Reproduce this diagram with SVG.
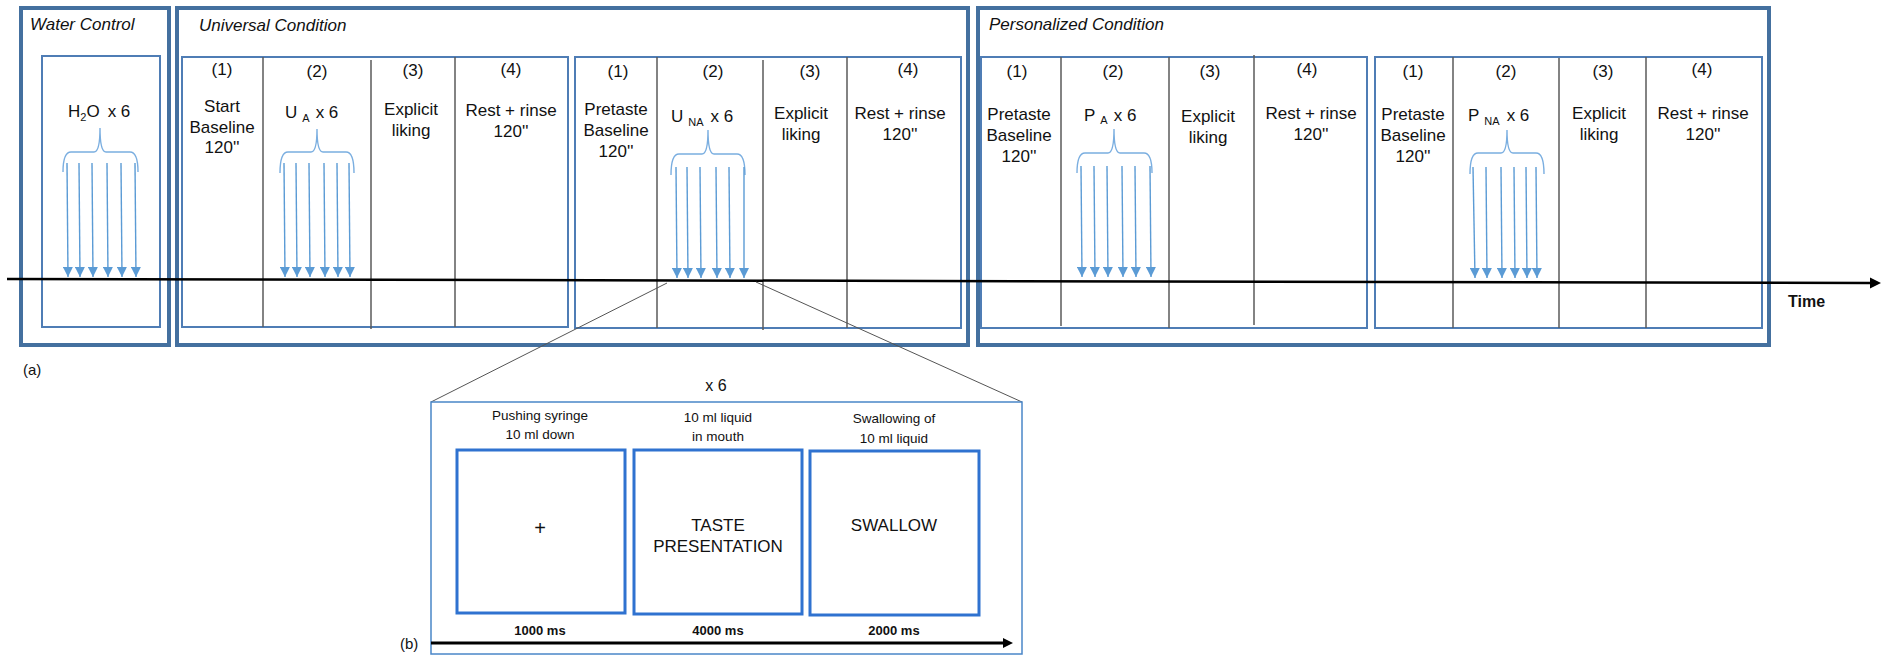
<svg xmlns="http://www.w3.org/2000/svg" width="1885" height="655" viewBox="0 0 1885 655">
<defs>
<marker id="ba" viewBox="0 0 10 10" refX="10" refY="5" markerWidth="10" markerHeight="10" orient="auto" markerUnits="userSpaceOnUse"><path d="M0,0 L10,5 L0,10 z" fill="#5b9bd5"/></marker>
<style>
text{font-family:"Liberation Sans",Arial,sans-serif;fill:#111;}
.t{font-size:17px;text-anchor:middle;}
.ti{font-size:17px;font-style:italic;}
.s{font-size:17px;}
.sm{font-size:13.5px;text-anchor:middle;}
.b{font-size:13px;font-weight:bold;text-anchor:middle;}
.outer{fill:none;stroke:#44709f;stroke-width:4;}
.inner{fill:none;stroke:#4f7db5;stroke-width:2;}
.div{stroke:#5a5a5a;stroke-width:1.5;}
.arr{stroke:#5b9bd5;stroke-width:1.4;fill:none;}
.brace{stroke:#7aaee0;stroke-width:1.4;fill:none;}
.sb{fill:none;stroke:#2f72d0;stroke-width:3;}
.zoom{stroke:#555;stroke-width:1;}
</style>
</defs>

<g id="water">
<rect class="outer" x="21" y="8" width="148" height="337"/>
<text class="ti" x="30" y="30">Water Control</text>
<rect class="inner" x="42" y="56" width="118" height="271"/>
<text class="s" x="68" y="117">H<tspan font-size="11" dy="4">2</tspan><tspan dy="-4">O</tspan><tspan dx="8">x 6</tspan></text>
<path class="brace" d="M63,172 Q63,152 71,152 L94,152 Q100,152 100,128 Q100,152 106,152 L130,152 Q138,152 138,172"/>
<g class="arr">
<line x1="67" y1="163" x2="68" y2="277" marker-end="url(#ba)"/>
<line x1="79" y1="163" x2="80" y2="277" marker-end="url(#ba)"/>
<line x1="92" y1="163" x2="93" y2="277" marker-end="url(#ba)"/>
<line x1="107" y1="163" x2="108" y2="277" marker-end="url(#ba)"/>
<line x1="121" y1="163" x2="122" y2="277" marker-end="url(#ba)"/>
<line x1="135" y1="163" x2="136" y2="277" marker-end="url(#ba)"/>
</g>
</g>

<g id="universal">
<rect class="outer" x="177" y="8" width="791" height="337"/>
<text class="ti" x="199" y="31">Universal Condition</text>
</g>

<g id="universal-a">
<rect class="inner" x="182" y="57" width="386" height="270"/>
<line class="div" x1="263" y1="57" x2="263" y2="327"/>
<line class="div" x1="371" y1="60" x2="371" y2="329"/>
<line class="div" x1="455" y1="57" x2="455" y2="327"/>
<text class="t" x="222" y="75">(1)</text>
<text class="t" x="222" y="112">Start</text>
<text class="t" x="222" y="133">Baseline</text>
<text class="t" x="222" y="153">120''</text>
<text class="t" x="317" y="77">(2)</text>
<text class="s" x="285" y="118">U<tspan font-size="11" dx="5" dy="4">A</tspan><tspan dx="6" dy="-4">x 6</tspan></text>
<path class="brace" d="M280,173 Q280,152 288,152 L311,152 Q317,152 317,129 Q317,152 323,152 L346,152 Q354,152 354,173"/>
<g class="arr">
<line x1="284" y1="163" x2="285" y2="277" marker-end="url(#ba)"/>
<line x1="296" y1="163" x2="297" y2="277" marker-end="url(#ba)"/>
<line x1="309" y1="163" x2="310" y2="277" marker-end="url(#ba)"/>
<line x1="324" y1="163" x2="325" y2="277" marker-end="url(#ba)"/>
<line x1="337" y1="163" x2="338" y2="277" marker-end="url(#ba)"/>
<line x1="349" y1="163" x2="350" y2="277" marker-end="url(#ba)"/>
</g>
<text class="t" x="413" y="76">(3)</text>
<text class="t" x="411" y="115">Explicit</text>
<text class="t" x="411" y="136">liking</text>
<text class="t" x="511" y="75">(4)</text>
<text class="t" x="511" y="116">Rest + rinse</text>
<text class="t" x="511" y="137">120''</text>
</g>

<g id="universal-b">
<rect class="inner" x="575" y="57" width="386" height="271"/>
<line class="div" x1="657" y1="57" x2="657" y2="328"/>
<line class="div" x1="763" y1="60" x2="763" y2="330"/>
<line class="div" x1="847" y1="57" x2="847" y2="328"/>
<text class="t" x="618" y="77">(1)</text>
<text class="t" x="616" y="115">Pretaste</text>
<text class="t" x="616" y="136">Baseline</text>
<text class="t" x="616" y="157">120''</text>
<text class="t" x="713" y="77">(2)</text>
<text class="s" x="671" y="122">U<tspan font-size="11" dx="5" dy="4">NA</tspan><tspan dx="7" dy="-4">x 6</tspan></text>
<path class="brace" d="M671,175 Q671,154 679,154 L702,154 Q708,154 708,130 Q708,154 714,154 L737,154 Q745,154 745,175"/>
<g class="arr">
<line x1="676" y1="167" x2="677" y2="278" marker-end="url(#ba)"/>
<line x1="687" y1="167" x2="688" y2="278" marker-end="url(#ba)"/>
<line x1="700" y1="167" x2="701" y2="278" marker-end="url(#ba)"/>
<line x1="716" y1="167" x2="717" y2="278" marker-end="url(#ba)"/>
<line x1="729" y1="167" x2="730" y2="278" marker-end="url(#ba)"/>
<line x1="744" y1="167" x2="744" y2="278" marker-end="url(#ba)"/>
</g>
<text class="t" x="810" y="77">(3)</text>
<text class="t" x="801" y="119">Explicit</text>
<text class="t" x="801" y="140">liking</text>
<text class="t" x="908" y="75">(4)</text>
<text class="t" x="900" y="119">Rest + rinse</text>
<text class="t" x="900" y="140">120''</text>
</g>

<g id="personalized">
<rect class="outer" x="978" y="8" width="791" height="337"/>
<text class="ti" x="989" y="30">Personalized Condition</text>
</g>

<g id="personalized-a">
<rect class="inner" x="981" y="57" width="386" height="271"/>
<line class="div" x1="1061" y1="57" x2="1061" y2="326"/>
<line class="div" x1="1169" y1="57" x2="1169" y2="328"/>
<line class="div" x1="1254" y1="55" x2="1254" y2="325"/>
<text class="t" x="1017" y="77">(1)</text>
<text class="t" x="1019" y="120">Pretaste</text>
<text class="t" x="1019" y="141">Baseline</text>
<text class="t" x="1019" y="162">120''</text>
<text class="t" x="1113" y="77">(2)</text>
<text class="s" x="1084" y="121">P<tspan font-size="11" dx="5" dy="3">A</tspan><tspan dx="6" dy="-3">x 6</tspan></text>
<path class="brace" d="M1077,173 Q1077,153 1085,153 L1108,153 Q1114,153 1114,129 Q1114,153 1120,153 L1144,153 Q1152,153 1152,173"/>
<g class="arr">
<line x1="1081" y1="166" x2="1082" y2="277" marker-end="url(#ba)"/>
<line x1="1094" y1="166" x2="1095" y2="277" marker-end="url(#ba)"/>
<line x1="1107" y1="166" x2="1108" y2="277" marker-end="url(#ba)"/>
<line x1="1122" y1="166" x2="1123" y2="277" marker-end="url(#ba)"/>
<line x1="1135" y1="166" x2="1136" y2="277" marker-end="url(#ba)"/>
<line x1="1150" y1="166" x2="1151" y2="277" marker-end="url(#ba)"/>
</g>
<text class="t" x="1210" y="77">(3)</text>
<text class="t" x="1208" y="122">Explicit</text>
<text class="t" x="1208" y="143">liking</text>
<text class="t" x="1307" y="75">(4)</text>
<text class="t" x="1311" y="119">Rest + rinse</text>
<text class="t" x="1311" y="140">120''</text>
</g>

<g id="personalized-b">
<rect class="inner" x="1375" y="57" width="387" height="271"/>
<line class="div" x1="1453" y1="57" x2="1453" y2="328"/>
<line class="div" x1="1559" y1="58" x2="1559" y2="328"/>
<line class="div" x1="1646" y1="57" x2="1646" y2="328"/>
<text class="t" x="1413" y="77">(1)</text>
<text class="t" x="1413" y="120">Pretaste</text>
<text class="t" x="1413" y="141">Baseline</text>
<text class="t" x="1413" y="162">120''</text>
<text class="t" x="1506" y="77">(2)</text>
<text class="s" x="1468" y="121">P<tspan font-size="11" dx="5" dy="4">NA</tspan><tspan dx="7" dy="-4">x 6</tspan></text>
<path class="brace" d="M1470,174 Q1470,153 1478,153 L1501,153 Q1507,153 1507,130 Q1507,153 1513,153 L1536,153 Q1544,153 1544,174"/>
<g class="arr">
<line x1="1473" y1="167" x2="1475" y2="278" marker-end="url(#ba)"/>
<line x1="1486" y1="167" x2="1487" y2="278" marker-end="url(#ba)"/>
<line x1="1501" y1="167" x2="1502" y2="278" marker-end="url(#ba)"/>
<line x1="1514" y1="167" x2="1515" y2="278" marker-end="url(#ba)"/>
<line x1="1526" y1="167" x2="1527" y2="278" marker-end="url(#ba)"/>
<line x1="1536" y1="167" x2="1537" y2="278" marker-end="url(#ba)"/>
</g>
<text class="t" x="1603" y="77">(3)</text>
<text class="t" x="1599" y="119">Explicit</text>
<text class="t" x="1599" y="140">liking</text>
<text class="t" x="1702" y="75">(4)</text>
<text class="t" x="1703" y="119">Rest + rinse</text>
<text class="t" x="1703" y="140">120''</text>
</g>

<g id="connectors">
<line x1="7" y1="279" x2="1870" y2="283" stroke="#000" stroke-width="2.5"/>
<polygon points="1870,277.5 1881,283 1870,288.5" fill="#000"/>
<line class="zoom" x1="667" y1="283" x2="431" y2="402"/>
<line class="zoom" x1="756" y1="282" x2="1022" y2="402"/>
</g>

<g id="labels">
<text style="font-size:16px;font-weight:bold;" x="1788" y="307">Time</text>
<text style="font-size:15px;" x="23" y="375">(a)</text>
<text style="font-size:15px;" x="400" y="649">(b)</text>
</g>

<g id="trial">
<rect x="431" y="402" width="591" height="252" fill="none" stroke="#4a86c8" stroke-width="1.5"/>
<text class="t" x="716" y="391" style="font-size:16px">x 6</text>
<rect class="sb" x="457" y="450" width="168" height="163"/>
<rect class="sb" x="634" y="450" width="168" height="164"/>
<rect class="sb" x="810" y="451" width="169" height="164"/>
<text class="sm" x="540" y="420">Pushing syringe</text>
<text class="sm" x="540" y="439">10 ml down</text>
<text class="sm" x="718" y="422">10 ml liquid</text>
<text class="sm" x="718" y="441">in mouth</text>
<text class="sm" x="894" y="423">Swallowing of</text>
<text class="sm" x="894" y="443">10 ml liquid</text>
<text class="t" x="540" y="535" style="font-size:20px">+</text>
<text class="t" x="718" y="531">TASTE</text>
<text class="t" x="718" y="552">PRESENTATION</text>
<text class="t" x="894" y="531">SWALLOW</text>
<text class="b" x="540" y="635">1000 ms</text>
<text class="b" x="718" y="635">4000 ms</text>
<text class="b" x="894" y="635">2000 ms</text>
<line x1="431" y1="643" x2="1004" y2="643" stroke="#000" stroke-width="3"/>
<polygon points="1003,638 1013,643 1003,648" fill="#000"/>
</g>
</svg>
